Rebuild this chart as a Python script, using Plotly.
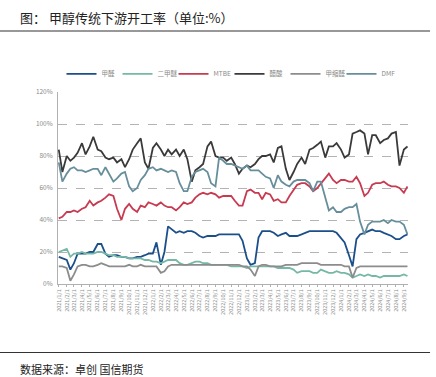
import pandas as pd
import plotly.graph_objects as go

# semi-monthly observation dates (1st and 15th of each month)
dates = pd.date_range("2021-01-01", "2024-09-16", freq="SMS")

jiaquan = [17,16,15,9,13,19,19,19,20,20,
           25,25,19,17,18,18,17,17,16,16,
           17,17,18,19,19,26,12,20,36,34,
           32,33,32,33,33,32,30,29,30,30,
           30,31,31,31,31,31,31,27,16,12,
           13,29,33,33,33,32,30,31,32,30,
           30,30,31,32,33,33,33,33,33,33,
           33,32,29,26,18,11,28,31,32,33,
           34,33,33,32,31,30,28,28,30,31]
erjiami = [20,21,22,17,19,19,20,19,19,19,
           20,20,19,18,18,17,17,17,16,16,
           16,16,15,15,14,14,13,14,15,15,
           15,13,12,12,13,14,14,13,13,12,
           12,12,12,12,11,11,11,11,10,11,
           11,11,11,11,11,11,10,10,10,10,
           9,7,8,8,8,7,7,9,8,7,
           7,8,7,7,6,4,5,6,5,6,
           5,5,4,5,5,5,5,5,6,5]
mtbe = [41,42,45,45,46,45,47,48,52,49,
        51,52,54,56,55,47,40,47,50,47,
        45,49,48,51,50,49,51,49,48,48,
        46,48,51,50,51,54,56,57,56,57,
        56,54,55,55,55,52,49,49,58,59,
        57,57,53,57,56,52,53,51,51,55,
        59,62,63,63,61,58,60,63,66,69,
        65,63,65,65,64,64,67,63,55,57,
        62,63,63,64,62,61,61,60,57,61]
cusuan = [84,70,80,77,79,82,88,81,86,92,
          84,83,79,78,79,76,78,73,78,84,
          88,91,76,72,85,88,84,80,84,81,
          84,80,84,78,64,71,73,75,86,89,
          80,79,79,77,79,75,69,72,74,73,
          75,78,80,80,81,76,85,86,72,65,
          70,75,79,75,84,85,87,89,79,86,
          86,88,84,79,81,94,95,96,94,81,
          93,93,88,90,91,94,95,74,84,86]
jiasuoquan = [11,11,10,2,6,11,12,12,11,11,
              12,13,12,11,11,11,11,11,12,11,
              11,12,11,11,11,11,7,8,11,12,
              12,12,12,12,12,12,12,12,12,12,
              12,12,12,12,12,12,12,11,11,9,
              5,11,12,12,11,11,11,11,12,12,
              12,12,13,13,13,13,13,12,12,12,
              12,12,12,11,11,4,10,11,11,11,
              11,11,11,11,11,11,11,11,11,11]
dmf = [76,64,69,72,73,71,71,70,71,72,
       72,68,73,69,64,66,69,70,61,58,
       60,65,68,72,73,71,72,71,70,71,
       70,63,58,58,67,70,71,72,70,63,
       61,79,77,75,75,74,73,72,74,71,
       71,71,69,67,66,60,68,64,62,61,
       64,65,65,65,63,58,64,64,54,46,
       48,45,45,47,48,48,50,39,31,37,
       39,39,39,40,38,40,39,39,37,31]

series_names = ["甲醛", "二甲醚", "MTBE", "醋酸", "甲缩醛", "DMF"]
series_values = [jiaquan, erjiami, mtbe, cusuan, jiasuoquan, dmf]
series_colors = ["#1b4f8a", "#76b8a6", "#c73a50", "#3b3a3a", "#8c8c8c", "#678e9b"]

month_ticks = pd.date_range("2021-01-01", "2024-09-01", freq="MS")
month_labels = [f"{d.year}/{d.month}/{d.day}" for d in month_ticks]
y_ticks = [0, 20, 40, 60, 80, 100, 120]
y_labels = [f"{v}%" for v in y_ticks]

FONT = "Noto Sans CJK SC"
# one legend box per series so the legend row can be spaced like the original
legend_x = [0.010, 0.170, 0.330, 0.490, 0.650, 0.810]

fig = go.Figure()
legend_layout = {}
for k, (name, vals, col) in enumerate(zip(series_names, series_values, series_colors)):
    lg = "legend" if k == 0 else f"legend{k + 1}"
    fig.add_trace(go.Scatter(x=dates, y=vals, name=name, mode="lines",
                             line=dict(color=col, width=1.8), legend=lg))
    legend_layout[lg] = dict(orientation="h", x=legend_x[k], y=1.094,
                             xanchor="left", yanchor="middle",
                             font=dict(size=6.5, color="#8a8a8a"), itemwidth=30,
                             bgcolor="rgba(0,0,0,0)")

fig.update_layout(
    width=436, height=377,
    margin=dict(l=58, r=28, t=92, b=93, autoexpand=False),
    plot_bgcolor="white", paper_bgcolor="white",
    font=dict(family=FONT, color="#808080"),
    showlegend=True,
    xaxis=dict(type="date", range=["2020-12-29", "2024-09-17"],
               tickmode="array", tickvals=month_ticks, ticktext=month_labels,
               tickangle=-90, tickfont=dict(size=5.5, color="#8a8a8a"),
               ticks="outside", ticklen=2, tickcolor="#b0b0b0",
               showline=True, linecolor="#b0b0b0", linewidth=1,
               showgrid=False, zeroline=False, automargin=False),
    yaxis=dict(range=[0, 120], tickmode="array", tickvals=y_ticks, ticktext=y_labels,
               tickfont=dict(size=6.5, color="#8a8a8a"),
               showgrid=True, gridcolor="#b3b3b3", griddash="dash", gridwidth=1,
               showline=True, linecolor="#b0b0b0", linewidth=1,
               zeroline=False, ticks="", ticklabelstandoff=3, automargin=False),
    **legend_layout,
)

# header / footer rules and texts
fig.add_shape(type="line", xref="paper", yref="paper", x0=-0.1657, x1=1.0629,
              y0=1.3177, y1=1.3177, line=dict(color="#333333", width=1.2))
fig.add_shape(type="line", xref="paper", yref="paper", x0=-0.1657, x1=1.0629,
              y0=-0.3568, y1=-0.3568, line=dict(color="#333333", width=1.2))
fig.add_annotation(xref="paper", yref="paper", x=-0.1143, y=1.3906,
                   xanchor="left", yanchor="middle", showarrow=False,
                   text="图： 甲醇传统下游开工率（单位:%）",
                   font=dict(family=FONT, size=13, color="#222222"))
fig.add_annotation(xref="paper", yref="paper", x=-0.1143, y=-0.4427,
                   xanchor="left", yanchor="middle", showarrow=False,
                   text="数据来源：卓创 国信期货",
                   font=dict(family=FONT, size=11, color="#222222"))

fig.write_html("out.html", config={"displayModeBar": False},
               post_script="document.body.style.margin='0';document.body.style.overflow='hidden';")
